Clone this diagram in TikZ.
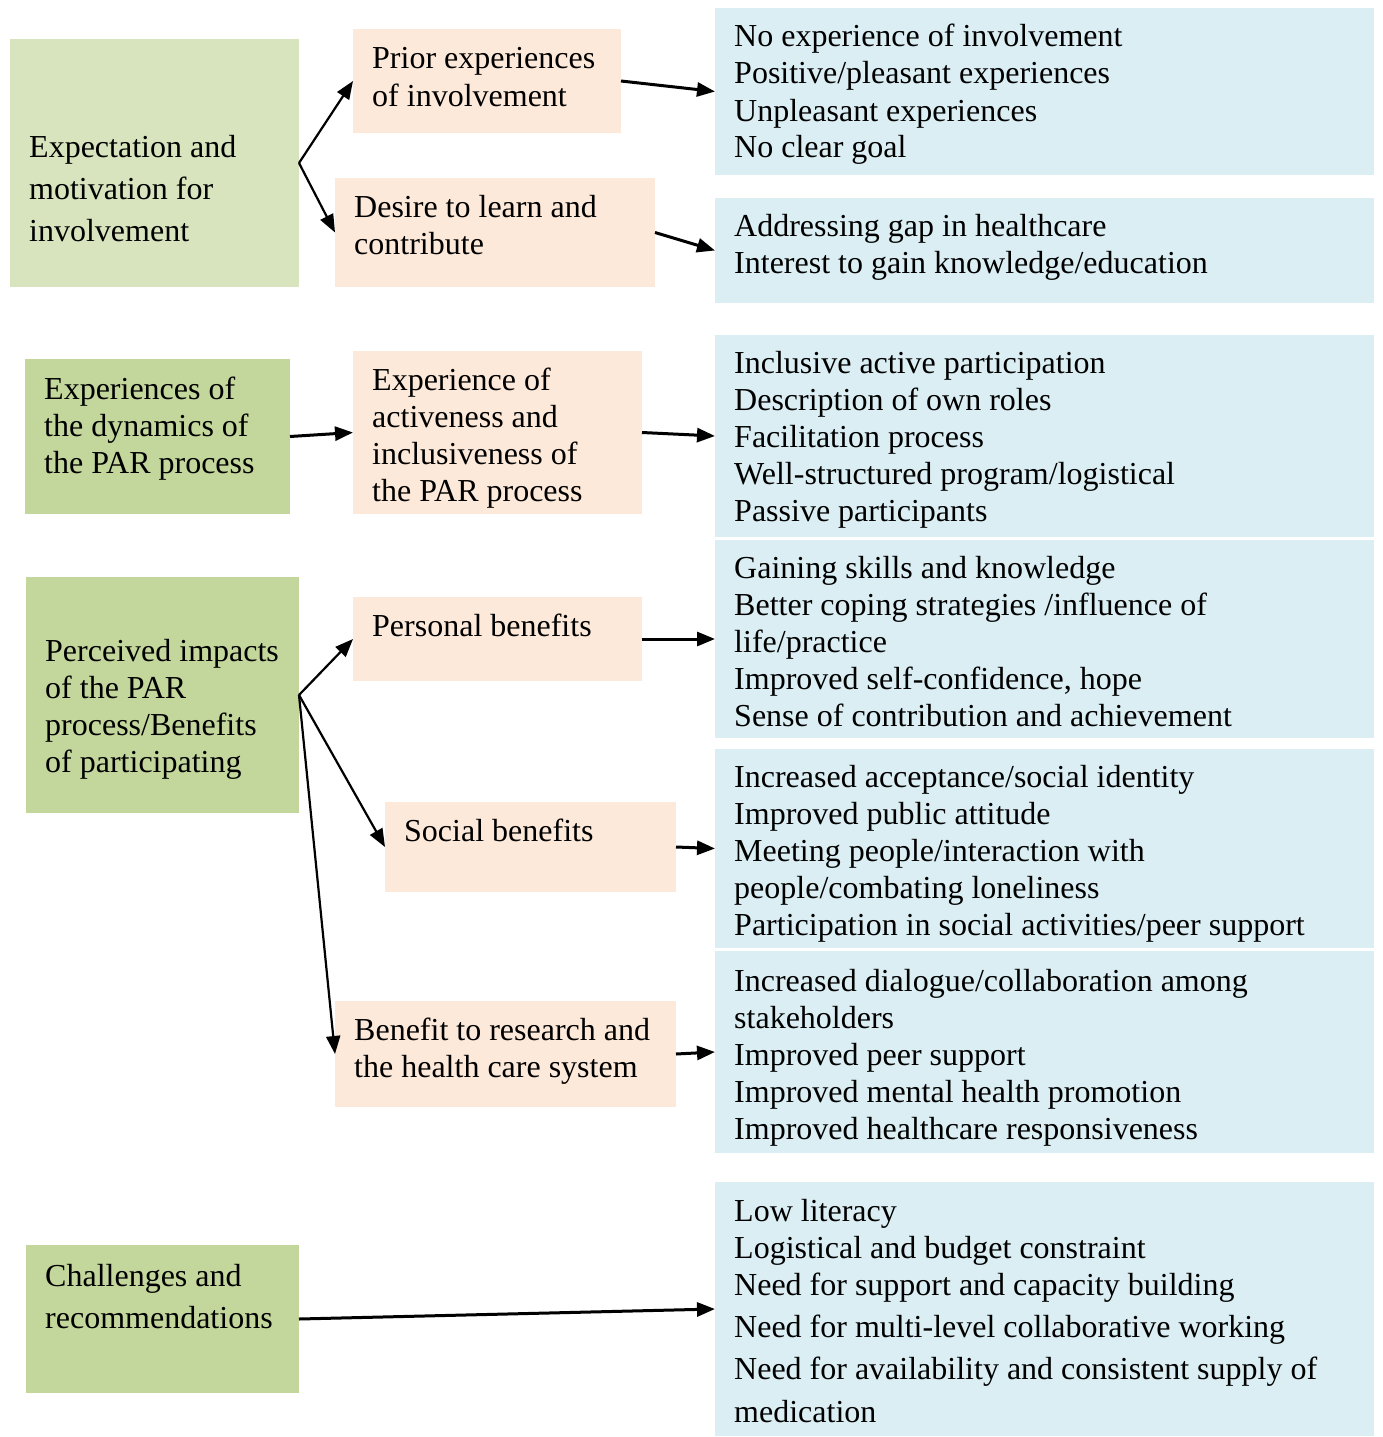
\documentclass[tikz,border=0pt]{standalone}
\usepackage{fontspec}
\setmainfont{Liberation Serif}
\usetikzlibrary{arrows.meta}
\definecolor{gA}{HTML}{D7E4BD}
\definecolor{gB}{HTML}{C3D69B}
\definecolor{pc}{HTML}{FDE9D9}
\definecolor{bl}{HTML}{DAEEF3}
\begin{document}
\begin{tikzpicture}[x=1pt,y=-1pt,
  box/.style={inner sep=0pt, outer sep=0pt, anchor=north west, draw=none},
  txt/.style={inner sep=0pt, anchor=base west, font=\fontsize{32}{37}\selectfont},
  arr/.style={-{Triangle[length=18pt,width=14pt]}, line width=3pt},
  darr/.style={-{Triangle[length=18pt,width=14pt]}, line width=2.2pt}]
\useasboundingbox (0,0) rectangle (1382,1437);
% boxes
\node[box, fill=gA, minimum width=289pt, minimum height=248pt] (g1) at (10,39) {};
\node[box, fill=pc, minimum width=268pt, minimum height=104pt] (p1) at (353,29) {};
\node[box, fill=pc, minimum width=320pt, minimum height=109pt] (p2) at (335,178) {};
\node[box, fill=bl, minimum width=659pt, minimum height=167pt] (b1) at (715,8) {};
\node[box, fill=bl, minimum width=659pt, minimum height=105pt] (b2) at (715,198) {};
\node[box, fill=gB, minimum width=265pt, minimum height=155pt] (g2) at (25,359) {};
\node[box, fill=pc, minimum width=289pt, minimum height=163pt] (p3) at (353,351) {};
\node[box, fill=bl, minimum width=659pt, minimum height=202pt] (b3) at (715,335) {};
\node[box, fill=gB, minimum width=273pt, minimum height=236pt] (g3) at (26,577) {};
\node[box, fill=pc, minimum width=289pt, minimum height=84pt] (p4) at (353,597) {};
\node[box, fill=bl, minimum width=659pt, minimum height=198pt] (b4) at (715,540) {};
\node[box, fill=pc, minimum width=291pt, minimum height=90pt] (p5) at (385,802) {};
\node[box, fill=bl, minimum width=659pt, minimum height=199pt] (b5) at (715,749) {};
\node[box, fill=pc, minimum width=341pt, minimum height=106pt] (p6) at (335,1001) {};
\node[box, fill=bl, minimum width=659pt, minimum height=202pt] (b6) at (715,951) {};
\node[box, fill=gB, minimum width=273pt, minimum height=148pt] (g4) at (26,1245) {};
\node[box, fill=bl, minimum width=659pt, minimum height=254pt] (b7) at (715,1182) {};
% texts
\node[txt] (tg1) at (29,157) {\parbox[t]{280pt}{Expectation and\\[5pt]motivation for\\[5pt]involvement}};
\node[txt] (tp1) at (372,69) {\parbox[t]{260pt}{Prior experiences\\of involvement}};
\node[txt] (tp2) at (354,217) {\parbox[t]{300pt}{Desire to learn and\\contribute}};
\node[txt] (tb1) at (734,47) {\parbox[t]{640pt}{No experience of involvement\\Positive/pleasant experiences\\Unpleasant experiences\\No clear goal}};
\node[txt] (tb2) at (734,236) {\parbox[t]{640pt}{Addressing gap in healthcare\\Interest to gain knowledge/education}};
\node[txt] (tg2) at (44,399) {\parbox[t]{260pt}{Experiences of\\the dynamics of\\the PAR process}};
\node[txt] (tp3) at (372,390) {\parbox[t]{280pt}{Experience of\\activeness and\\inclusiveness of\\the PAR process}};
\node[txt] (tb3) at (734,373) {\parbox[t]{640pt}{Inclusive active participation\\Description of own roles\\Facilitation process\\Well-structured program/logistical\\Passive participants}};
\node[txt] (tg3) at (45,661) {\parbox[t]{260pt}{Perceived impacts\\of the PAR\\process/Benefits\\of participating}};
\node[txt] (tp4) at (372,636) {\parbox[t]{280pt}{Personal benefits}};
\node[txt] (tb4) at (734,578) {\parbox[t]{640pt}{Gaining skills and knowledge\\Better coping strategies /influence of\\life/practice\\Improved self-confidence, hope\\Sense of contribution and achievement}};
\node[txt] (tp5) at (404,841) {\parbox[t]{280pt}{Social benefits}};
\node[txt] (tb5) at (734,787) {\parbox[t]{640pt}{Increased acceptance/social identity\\Improved public attitude\\Meeting people/interaction with\\people/combating loneliness\\Participation in social activities/peer support}};
\node[txt] (tp6) at (354,1040) {\parbox[t]{330pt}{Benefit to research and\\the health care system}};
\node[txt] (tb6) at (734,991) {\parbox[t]{640pt}{Increased dialogue/collaboration among\\stakeholders\\Improved peer support\\Improved mental health promotion\\Improved healthcare responsiveness}};
\node[txt] (tg4) at (45,1286) {\parbox[t]{260pt}{Challenges and\\[5pt]recommendations}};
\node[txt] (tb7) at (734,1221) {\parbox[t]{640pt}{Low literacy\\Logistical and budget constraint\\Need for support and capacity building\\[5pt]Need for multi-level collaborative working\\[5pt]Need for availability and consistent supply of\\[6pt]medication}};
% arrows
\draw[darr] (g1.east) -- (p1.west);
\draw[darr] (g1.east) -- (p2.west);
\draw[arr] (p1.east) -- (b1.west);
\draw[arr] (p2.east) -- (b2.west);
\draw[arr] (g2.east) -- (p3.west);
\draw[arr] (p3.east) -- (b3.west);
\draw[darr] (g3.east) -- (p4.west);
\draw[darr] (g3.east) -- (p5.west);
\draw[darr] (g3.east) -- (p6.west);
\draw[arr] (p4.east) -- (b4.west);
\draw[arr] (p5.east) -- (b5.west);
\draw[arr] (p6.east) -- (b6.west);
\draw[arr] (g4.east) -- (b7.west);
\end{tikzpicture}
\end{document}
